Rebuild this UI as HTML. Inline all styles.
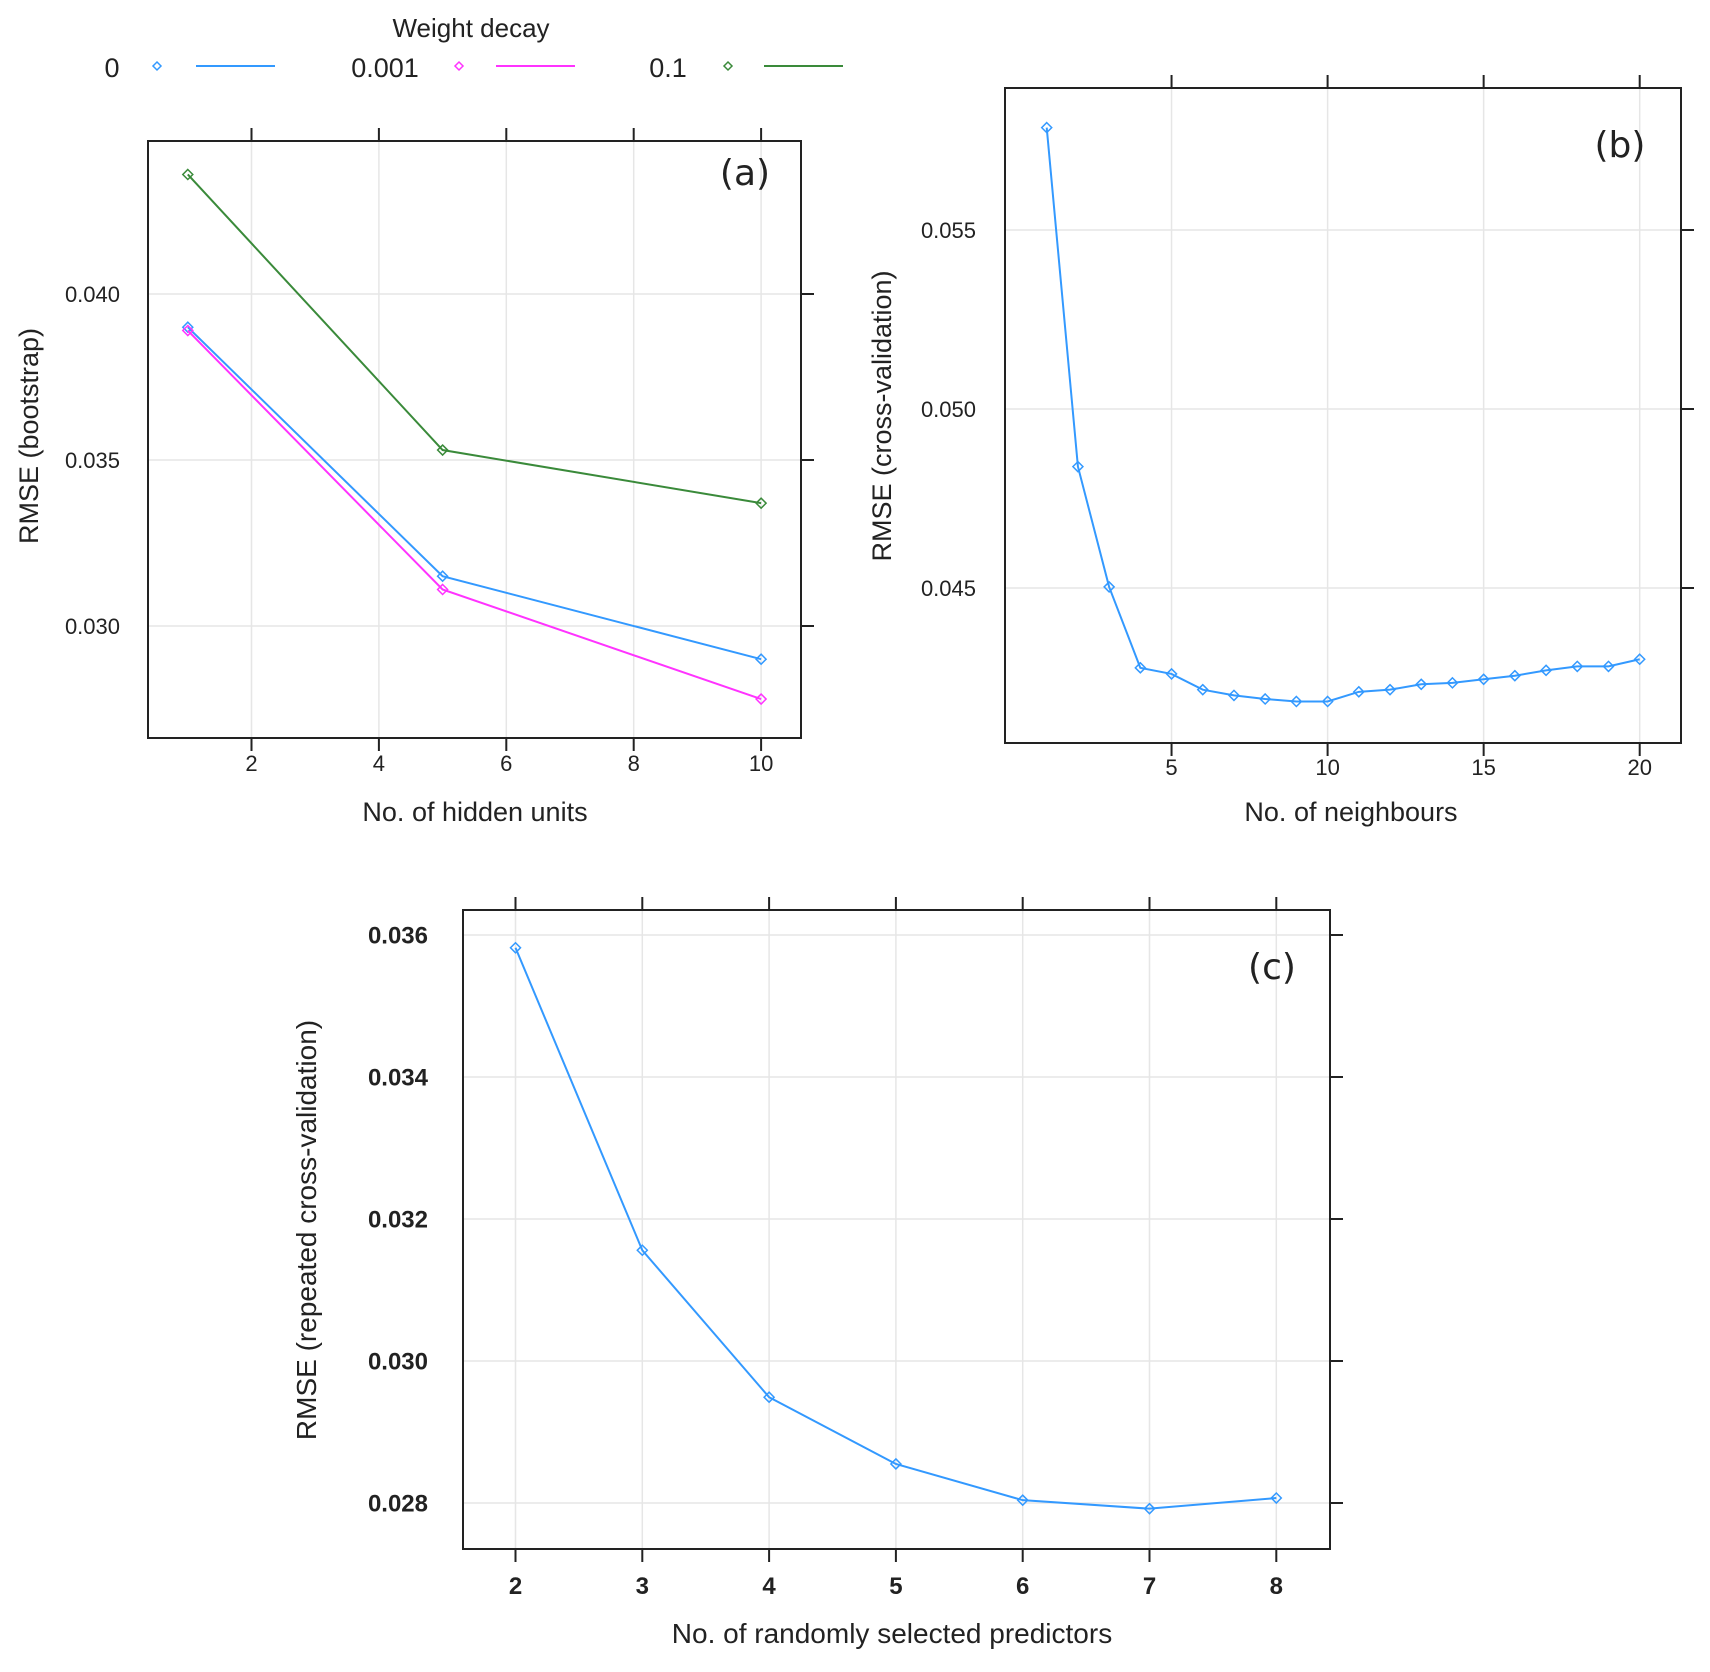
<!DOCTYPE html>
<html><head><meta charset="utf-8"><style>
body{margin:0;background:#fff}
svg text{font-family:"Liberation Sans",sans-serif;fill:#222}
</style></head><body>
<svg id="s" width="1710" height="1667" viewBox="0 0 1710 1667" xmlns="http://www.w3.org/2000/svg"></svg>
<script>
// Panel (a) data
const aX = [1, 5, 10];
const aDecay0 = [0.0390, 0.0315, 0.0290];
const aDecay001 = [0.0389, 0.0311, 0.0278];
const aDecay01 = [0.0436, 0.0353, 0.0337];
const aXTicks = [2, 4, 6, 8, 10];
const aYTicks = ["0.030", "0.035", "0.040"];
// Panel (b) data
const bX = [1,2,3,4,5,6,7,8,9,10,11,12,13,14,15,16,17,18,19,20];
const bRmse = [0.05786,0.04839,0.04503,0.04277,0.0426,0.04216,0.0420,0.0419,0.04183,0.04183,0.0421,0.04216,0.04231,0.04235,0.04245,0.04255,0.0427,0.04281,0.04281,0.04301];
const bXTicks = [5, 10, 15, 20];
const bYTicks = ["0.045", "0.050", "0.055"];
// Panel (c) data
const cX = [2,3,4,5,6,7,8];
const cRmse = [0.03582,0.03156,0.02949,0.02855,0.02804,0.02792,0.02807];
const cXTicks = [2,3,4,5,6,7,8];
const cYTicks = ["0.028","0.030","0.032","0.034","0.036"];

const svg = document.getElementById('s');
const NS = 'http://www.w3.org/2000/svg';
function mk(tag, attrs, parent, name, txt){
  const e = document.createElementNS(NS, tag);
  for (const k in attrs) e.setAttribute(k, attrs[k]);
  
  
  if (txt !== undefined) e.textContent = txt;
  (parent||svg).appendChild(e);
  return e;
}
function panel(p){
  const g = mk('g', {}, svg, p.name);
  const sx = v => p.x0px + (v - p.x0v) * p.xs;
  const sy = v => p.y0px - (v - p.y0v) * p.ys;
  p.xTicks.forEach(t => mk('line', {x1:sx(t),x2:sx(t),y1:p.top,y2:p.bottom,stroke:'#e6e6e6','stroke-width':1.5}, g, 'x-gridline'));
  p.yTicks.forEach(t => mk('line', {x1:p.left,x2:p.right,y1:sy(+t),y2:sy(+t),stroke:'#e6e6e6','stroke-width':1.5}, g, 'y-gridline'));
  mk('rect', {x:p.left,y:p.top,width:p.right-p.left,height:p.bottom-p.top,fill:'none',stroke:'#222','stroke-width':2}, g, 'plot-frame');
  p.xTicks.forEach(t => {
    mk('line', {x1:sx(t),x2:sx(t),y1:p.top,y2:p.top-13,stroke:'#222','stroke-width':2}, g, 'x-tick-top');
    mk('line', {x1:sx(t),x2:sx(t),y1:p.bottom,y2:p.bottom+13,stroke:'#222','stroke-width':2}, g, 'x-tick');
    mk('text', {x:sx(t),y:p.xLabY,'text-anchor':'middle','font-size':p.tickFs,'font-weight':p.tickW||'normal'}, g, 'x-tick-label', String(t));
  });
  p.yTicks.forEach(t => {
    mk('line', {x1:p.right,x2:p.right+13,y1:sy(+t),y2:sy(+t),stroke:'#222','stroke-width':2}, g, 'y-tick-right');
    mk('text', {x:p.yLabX,y:sy(+t)+p.tickFs*0.36,'text-anchor':'end','font-size':p.tickFs,'font-weight':p.tickW||'normal'}, g, 'y-tick-label', t);
  });
  p.series.forEach(s => {
    const pts = s.xs.map((x,i) => sx(x)+','+sy(s.ys[i])).join(' ');
    mk('polyline', {points:pts,fill:'none',stroke:s.color,'stroke-width':2}, g, s.name+'-line');
    s.xs.forEach((x,i) => {
      const cx = sx(x), cy = sy(s.ys[i]);
      mk('polygon', {points:`${cx},${cy-5} ${cx+5},${cy} ${cx},${cy+5} ${cx-5},${cy}`,fill:'none',stroke:s.color,'stroke-width':1.5}, g, s.name+'-point');
    });
  });
  mk('text', {x:p.xTitle[0],y:p.xTitle[1],'text-anchor':'middle','font-size':p.titleFs}, g, 'x-axis-title', p.xTitleText);
  mk('text', {x:0,y:0,'text-anchor':'middle','font-size':p.titleFs,transform:`translate(${p.yTitle[0]},${p.yTitle[1]}) rotate(-90)`}, g, 'y-axis-title', p.yTitleText);
  mk('text', {x:p.tag[0],y:p.tag[1],'text-anchor':'middle','font-size':36,style:'font-family:"DejaVu Sans","Liberation Sans",sans-serif'}, g, 'panel-tag', p.tagText);
}
panel({name:'panel-a',left:148,top:141,right:801,bottom:738,x0v:2,x0px:251.5,xs:63.7,y0v:0.040,y0px:294,ys:166/0.005,
  xTicks:aXTicks,yTicks:aYTicks,xLabY:771,yLabX:120,tickFs:22,
  series:[{name:'decay-0.1',xs:aX,ys:aDecay01,color:'#3a8a3a'},{name:'decay-0',xs:aX,ys:aDecay0,color:'#3399ff'},{name:'decay-0.001',xs:aX,ys:aDecay001,color:'#ff33ff'}],
  xTitle:[475,821],xTitleText:'No. of hidden units',yTitle:[38,436],yTitleText:'RMSE (bootstrap)',titleFs:27,tag:[745,185],tagText:'(a)'});
panel({name:'panel-b',left:1005,top:88,right:1681,bottom:743,x0v:0,x0px:1015.5,xs:31.21,y0v:0.055,y0px:230,ys:179/0.005,
  xTicks:bXTicks,yTicks:bYTicks,xLabY:775,yLabX:976,tickFs:22,
  series:[{name:'knn',xs:bX,ys:bRmse,color:'#3399ff'}],
  xTitle:[1351,821],xTitleText:'No. of neighbours',yTitle:[891,416],yTitleText:'RMSE (cross-validation)',titleFs:27,tag:[1620,157],tagText:'(b)'});
panel({name:'panel-c',left:463,top:910,right:1330,bottom:1549,x0v:2,x0px:515.5,xs:126.8,y0v:0.036,y0px:935,ys:142/0.002,
  xTicks:cXTicks,yTicks:cYTicks,xLabY:1594,yLabX:428,tickFs:24,tickW:'bold',
  series:[{name:'rf',xs:cX,ys:cRmse,color:'#3399ff'}],
  xTitle:[892,1643],xTitleText:'No. of randomly selected predictors',yTitle:[316,1230],yTitleText:'RMSE (repeated cross-validation)',titleFs:28,tag:[1272,979],tagText:'(c)'});
const lg = mk('g', {}, svg, 'legend');
mk('text', {x:471,y:37,'text-anchor':'middle','font-size':26}, lg, 'legend-title', 'Weight decay');
const legLabels = ['0','0.001','0.1'];
const legColors = ['#3399ff','#ff33ff','#3a8a3a'];
const legLabelX = [112,385,668], legDiamondX = [157,459,728], legLineX = [196,496,764];
legLabels.forEach((l,i) => {
  const e = mk('g', {}, lg, 'legend-entry');
  mk('text', {x:legLabelX[i],y:77,'text-anchor':'middle','font-size':27}, e, 'legend-label', l);
  const cx = legDiamondX[i], cy = 66;
  mk('polygon', {points:`${cx},${cy-4} ${cx+4},${cy} ${cx},${cy+4} ${cx-4},${cy}`,fill:'none',stroke:legColors[i],'stroke-width':1.5}, e, 'legend-marker');
  mk('line', {x1:legLineX[i],x2:legLineX[i]+79,y1:66,y2:66,stroke:legColors[i],'stroke-width':2}, e, 'legend-line');
});
</script>
</body></html>
